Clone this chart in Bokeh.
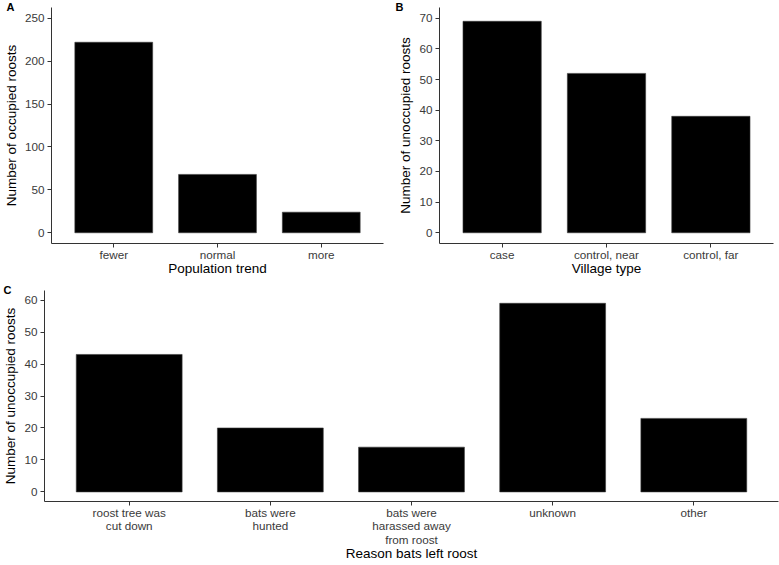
from bokeh.plotting import figure
from bokeh.layouts import column, row
from bokeh.models import FactorRange, Range1d, FixedTicker, Title
from bokeh.embed import file_html
from bokeh.resources import INLINE

# ---- data ----
trend_cats = ["fewer", "normal", "more"]
trend_vals = [222, 68, 24]

village_cats = ["case", "control, near", "control, far"]
village_vals = [69, 52, 38]

reason_cats = ["roost tree was\ncut down", "bats were\nhunted",
               "bats were\nharassed away\nfrom roost", "unknown", "other"]
reason_vals = [43, 20, 14, 59, 23]

yticks_a = [0, 50, 100, 150, 200, 250]
yticks_b = [0, 10, 20, 30, 40, 50, 60, 70]
yticks_c = [0, 10, 20, 30, 40, 50, 60]

FONT = "Liberation Sans"
AXIS_COL = "#333333"
TICK_COL = "#3a3a3a"


def make_panel(cats, vals, y0, y1, yticks, xlabel, ylabel, letter,
               width, height, bl, br, bt, bb, letter_x):
    p = figure(x_range=FactorRange(factors=cats, range_padding=0.1,
                                   range_padding_units="absolute"),
               y_range=Range1d(y0, y1), width=width, height=height,
               output_backend="svg", toolbar_location=None,
               min_border_left=bl, min_border_right=br,
               min_border_top=bt, min_border_bottom=bb)
    p.title = Title(text=letter, align="left", offset=letter_x, standoff=-10,
                    vertical_align="bottom", text_font=FONT,
                    text_font_size="11px", text_font_style="bold",
                    text_color="black", text_line_height=1.0)
    p.vbar(x=cats, top=vals, width=0.75, bottom=0,
           fill_color="black", line_color="#3a3a3a", line_width=0.6)
    p.xgrid.visible = False
    p.ygrid.visible = False
    p.outline_line_color = None
    p.background_fill_color = "white"
    p.border_fill_color = "white"
    p.yaxis.ticker = FixedTicker(ticks=yticks)
    for ax in (p.xaxis[0], p.yaxis[0]):
        ax.axis_line_color = AXIS_COL
        ax.axis_line_width = 1
        ax.major_tick_line_color = AXIS_COL
        ax.major_tick_in = 0
        ax.major_tick_out = 4
        ax.minor_tick_line_color = None
        ax.major_label_text_font = FONT
        ax.major_label_text_font_size = "11.7px"
        ax.major_label_text_color = TICK_COL
        ax.axis_label_text_font = FONT
        ax.axis_label_text_font_size = "13.5px"
        ax.axis_label_text_font_style = "normal"
        ax.axis_label_text_color = "black"
    p.xaxis.major_label_text_line_height = 1.05
    p.xaxis.major_label_standoff = 0
    p.xaxis.axis_label_standoff = -3
    p.yaxis.major_label_standoff = 3
    p.yaxis.axis_label_standoff = 3
    p.xaxis.axis_label = xlabel
    p.yaxis.axis_label = ylabel
    return p


pA = make_panel(trend_cats, trend_vals, -12.5, 262.5, yticks_a,
                "Population trend", "Number of occupied roosts", "A",
                390, 282, 49, 7, 7, 39, -45)
pB = make_panel(village_cats, village_vals, -3.5, 73.5, yticks_b,
                "Village type", "Number of unoccupied roosts", "B",
                389, 282, 49, 6, 7, 39, -44)
pC = make_panel(reason_cats, reason_vals, -3, 63, yticks_c,
                "Reason bats left roost", "Number of unoccupied roosts", "C",
                779, 283, 42, 1, 8, 64, -41)

layout = column(row(pA, pB, spacing=0), pC, spacing=0)
open("out.html", "w").write(file_html(layout, INLINE))
